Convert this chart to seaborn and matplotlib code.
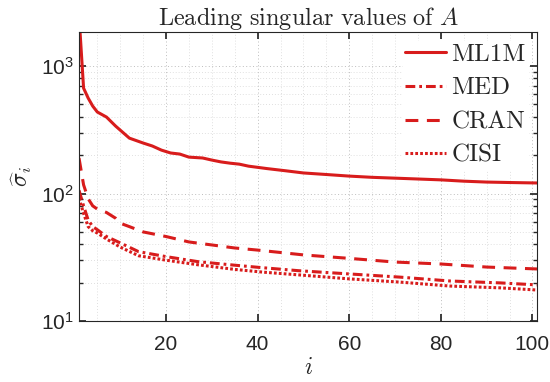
import numpy as np
import pandas as pd
import matplotlib
matplotlib.use("Agg")
import matplotlib.pyplot as plt
import matplotlib.ticker as mticker
import seaborn as sns

# values (index i, leading singular value)
ml1m_i = [1, 2, 3, 4, 5, 7, 9, 12, 15, 17, 19, 21, 23, 25, 28, 30, 32, 34, 36, 38,
          42, 46, 50, 55, 60, 65, 70, 75, 80, 85, 90, 95, 101]
ml1m = [2500, 671, 561, 485, 436, 398, 338, 272, 249, 236, 219, 208, 204, 193, 190, 183,
        177, 173, 170, 164, 157, 151, 145, 141, 137, 134, 132, 130, 128, 125, 123, 122, 121]

cran_i = [1, 2, 3, 4, 5, 7, 9, 10, 12, 15, 20, 25, 30, 35, 40, 50, 60, 70, 80, 90, 101]
cran = [190, 117, 91, 80, 75.5, 71, 64, 58.5, 55, 50, 46, 41.7, 39.5, 37.4, 36, 33, 31,
        29, 28, 26.5, 25.6]

med_i = [1, 2, 3, 4, 5, 7, 10, 14, 20, 27, 35, 41, 49, 60, 71, 82, 93, 101]
med = [106, 80, 62, 55, 52, 46, 41, 35, 32, 29.2, 27.4, 26.2, 24.8, 23.4, 22.1, 20.6, 19.9, 19.2]

cisi_i = med_i
cisi = [92, 70, 55, 51, 49, 44, 38, 32.5, 30, 27.6, 25.4, 24.2, 23, 21.4, 20.2, 18.8, 18.2, 17.5]

names = ["ML1M", "MED", "CRAN", "CISI"]
xs = [ml1m_i, med_i, cran_i, cisi_i]
ys = [ml1m, med, cran, cisi]

df = pd.concat([pd.DataFrame({"i": x, "sigma": y, "dataset": n})
                for n, x, y in zip(names, xs, ys)], ignore_index=True)

sns.set_theme(style="ticks")
plt.rcParams["font.family"] = ["Liberation Sans", "DejaVu Sans"]
plt.rcParams["mathtext.fontset"] = "custom"
plt.rcParams["mathtext.rm"] = "Liberation Sans"
plt.rcParams["mathtext.it"] = "Liberation Sans:italic"

red = "#d81c1c"
dark = "#262626"

fig = plt.figure(figsize=(5.5, 3.82), dpi=100)
ax = fig.add_axes([79 / 550, 1 - 321 / 382, (537 - 79) / 550, (321 - 32) / 382])

sns.lineplot(data=df, x="i", y="sigma", hue="dataset", style="dataset",
             palette={n: red for n in names},
             dashes={"ML1M": "", "MED": (3.2, 1.3, 0.9, 1.3), "CRAN": (4.2, 2.8),
                     "CISI": (0.9, 0.7)},
             linewidth=2.2, ax=ax, legend=True)

ax.set_yscale("log")
ax.set_xlim(1, 101)
ax.set_ylim(10, 1850)
ax.set_xticks([20, 40, 60, 80, 100])
ax.xaxis.set_minor_locator(mticker.MultipleLocator(5))
ax.yaxis.set_major_locator(mticker.LogLocator(base=10))
ax.yaxis.set_minor_locator(mticker.LogLocator(base=10, subs=np.arange(2, 10)))
ax.yaxis.set_minor_formatter(mticker.NullFormatter())
ax.yaxis.set_major_formatter(mticker.LogFormatterMathtext())

ax.grid(True, which="major", linestyle=(0, (1, 2.5)), color="#bdbdbd", linewidth=0.7)
ax.grid(True, which="minor", linestyle=(0, (1, 2.5)), color="#d5d5d5", linewidth=0.6)
ax.set_axisbelow(True)

for s in ax.spines.values():
    s.set_visible(True)
    s.set_color(dark)
    s.set_linewidth(0.8)
ax.tick_params(which="both", direction="in", top=True, right=True, colors=dark,
               labelsize=15)
ax.tick_params(which="major", length=5)
ax.tick_params(which="minor", length=3)
ax.tick_params(axis="x", which="minor", length=0)
ax.tick_params(axis="x", pad=10)

ax.set_title(r"$\mathrm{Leading\ singular\ values\ of}\ A$", fontsize=17.5,
             math_fontfamily="cm", pad=4)
ax.set_xlabel(r"$i$", fontsize=17, math_fontfamily="cm", labelpad=2)
ax.set_ylabel(r"$\widehat{\sigma}_i$", fontsize=17, math_fontfamily="cm", labelpad=5)

leg = ax.legend(loc="upper right", prop={"family": "cmr10", "size": 18},
                handlelength=1.65, handletextpad=0.2, labelspacing=0.45,
                borderaxespad=0.35, borderpad=0.1, frameon=True, fancybox=False)
leg.get_frame().set_edgecolor("white")
leg.get_frame().set_facecolor("white")
leg.get_frame().set_alpha(1)

fig.savefig("out.png", dpi=100)
